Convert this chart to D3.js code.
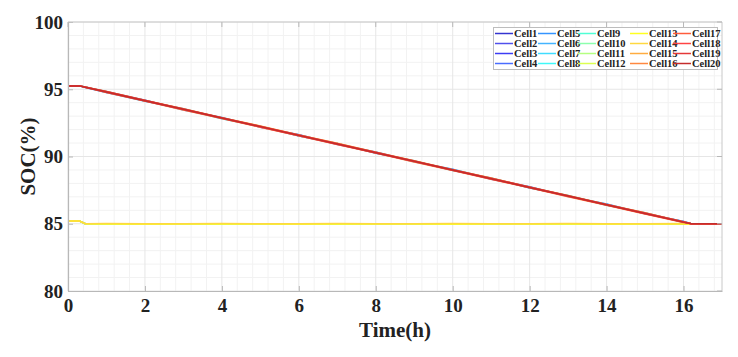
<!DOCTYPE html>
<html><head><meta charset="utf-8">
<script src="https://cdn.jsdelivr.net/npm/d3@7/dist/d3.min.js"></script>
<style>body{margin:0;background:#fff}svg{display:block}text{font-family:"Liberation Serif","Times New Roman",serif;font-weight:bold;fill:#222}</style>
</head><body><svg id="c" width="738" height="357"></svg>
<script>
// ---- data ----
const cellNames = ["Cell1","Cell2","Cell3","Cell4","Cell5","Cell6","Cell7","Cell8","Cell9","Cell10",
  "Cell11","Cell12","Cell13","Cell14","Cell15","Cell16","Cell17","Cell18","Cell19","Cell20"];
const cellColors = ["#3434d0","#5050ec","#3c3cf4","#4a6cff","#3494ff","#44b4ff","#40dcff","#40f8f8","#50ffd4","#8cffac",
  "#b4ff80","#dcff50","#ffff20","#ffd840","#ffac40","#ff8840","#ff5c3c","#ff4444","#e43838","#c42c2c"];
const timeH = [0,0.3,0.45,1,2,3,4,5,6,7,8,9,10,11,12,13,14,15,16,16.2,17];
const soc1  = [95.25,95.25,95.16,94.82,94.13,93.55,92.84,92.24,91.55,90.96,90.26,89.67,88.97,88.39,87.68,87.09,86.40,85.80,85.12,85.00,85.00];
const soc2  = [95.25,95.25,95.13,94.76,94.18,93.46,92.89,92.18,91.61,90.89,90.32,89.60,89.04,88.31,87.74,87.02,86.46,85.74,85.16,85.00,85.00];
const soc3  = [85.20,85.20,85.00,85.00,84.99,85.00,85.00,84.98,85.00,85.00,84.99,85.00,85.00,84.98,85.00,85.00,84.99,85.00,85.00,85.00,85.00];
const soc4  = [85.20,85.20,85.00,84.99,85.00,84.98,85.00,85.00,84.99,85.00,85.00,84.98,85.00,85.00,84.99,85.00,85.00,84.98,85.00,85.00,85.00];
const soc5  = [95.25,95.25,95.15,94.83,94.19,93.50,92.90,92.20,91.62,90.92,90.33,89.63,89.05,88.34,87.75,87.05,86.47,85.76,85.17,85.00,85.00];
const soc6  = [95.25,95.25,95.17,94.75,94.11,93.53,92.81,92.25,91.53,90.97,90.24,89.68,88.95,88.40,87.66,87.10,86.38,85.81,85.10,85.00,85.00];
const soc7  = [95.25,95.25,95.15,94.78,94.16,93.48,92.86,92.24,91.55,90.93,90.30,89.61,89.02,88.37,87.70,87.08,86.44,85.77,85.15,85.00,85.00];
const soc8  = [85.20,85.20,85.00,85.00,84.98,85.00,84.99,85.00,85.00,84.98,85.00,84.99,85.00,85.00,84.98,85.00,84.99,85.00,85.00,85.00,85.00];
const soc9  = [95.25,95.25,95.14,94.80,94.12,93.51,92.83,92.21,91.56,90.95,90.27,89.64,88.97,88.36,87.68,87.06,86.39,85.78,85.12,85.00,85.00];
const soc10 = [85.20,85.20,85.00,84.98,85.00,84.99,85.00,84.98,85.00,85.00,84.99,85.00,84.98,85.00,85.00,84.99,85.00,84.98,85.00,85.00,85.00];
const soc11 = [85.20,85.20,85.00,84.97,84.98,84.97,84.98,84.99,84.97,84.98,84.97,84.99,84.98,84.97,84.98,84.97,84.99,84.98,84.98,84.98,84.98];
const soc12 = [85.20,85.20,85.00,84.98,84.97,84.98,84.97,84.98,84.98,84.97,84.98,84.98,84.97,84.99,84.97,84.98,84.98,84.97,84.98,84.98,84.98];
const soc13 = [85.20,85.20,85.00,85.00,84.99,85.00,85.00,85.00,84.99,85.00,85.00,85.00,84.99,85.00,85.00,85.00,84.99,85.00,85.00,84.96,84.96];
const soc14 = [85.20,85.20,85.00,85.01,85.00,85.00,85.01,85.00,85.00,85.01,85.00,85.00,85.01,85.00,85.00,85.01,85.00,85.00,85.01,84.98,84.98];
const soc15 = [95.25,95.25,95.16,94.84,94.16,93.56,92.88,92.27,91.60,90.98,90.31,89.69,89.01,88.41,87.72,87.11,86.43,85.82,85.14,85.00,85.00];
const soc16 = [95.25,95.25,95.15,94.76,94.12,93.45,92.83,92.17,91.54,90.89,90.25,89.59,88.96,88.31,87.67,87.01,86.38,85.73,85.10,85.00,85.00];
const soc17 = [95.25,95.25,95.15,94.83,94.18,93.54,92.89,92.25,91.60,90.96,90.31,89.67,89.02,88.38,87.73,87.09,86.44,85.80,85.15,85.00,85.00];
const soc18 = [95.25,95.25,95.16,94.78,94.13,93.49,92.84,92.20,91.55,90.91,90.26,89.62,88.97,88.33,87.68,87.04,86.39,85.75,85.11,85.00,85.00];
const soc19 = [95.25,95.25,95.14,94.81,94.17,93.52,92.87,92.23,91.58,90.94,90.29,89.65,89.00,88.36,87.71,87.07,86.42,85.78,85.13,85.00,85.00];
const soc20 = [95.25,95.25,95.15,94.80,94.15,93.51,92.86,92.22,91.57,90.93,90.28,89.64,88.99,88.35,87.70,87.06,86.41,85.77,85.12,85.00,85.00];
const socSeries = [soc1,soc2,soc3,soc4,soc5,soc6,soc7,soc8,soc9,soc10,soc11,soc12,soc13,soc14,soc15,soc16,soc17,soc18,soc19,soc20];
const xTicks = [0,2,4,6,8,10,12,14,16];
const yTicks = [80,85,90,95,100];

// ---- chart ----
const svg = d3.select("#c");
const L=68, R=722, T=22, B=291;
const x = d3.scaleLinear().domain([0,17]).range([L,R]);
const y = d3.scaleLinear().domain([80,100]).range([B,T]);

const g = svg.append("g");
const xMinor = d3.range(0,17.001,0.4).filter(v=>Math.abs(v/2-Math.round(v/2))>1e-6);
const yMinor = d3.range(80,100.001,1).filter(v=>v%5!==0);
g.selectAll(".xm").data(xMinor).join("line").attr("x1",d=>x(d)).attr("x2",d=>x(d)).attr("y1",T).attr("y2",B).attr("stroke","#f2f2f2");
g.selectAll(".ym").data(yMinor).join("line").attr("y1",d=>y(d)).attr("y2",d=>y(d)).attr("x1",L).attr("x2",R).attr("stroke","#f2f2f2");
g.selectAll(".xg").data(xTicks).join("line").attr("x1",d=>x(d)).attr("x2",d=>x(d)).attr("y1",T).attr("y2",B).attr("stroke","#e6e6e6");
g.selectAll(".yg").data(yTicks).join("line").attr("y1",d=>y(d)).attr("y2",d=>y(d)).attr("x1",L).attr("x2",R).attr("stroke","#e6e6e6");

const line = d3.line().x((d,i)=>x(timeH[i])).y(d=>y(d));
svg.append("g").selectAll("path").data(socSeries).join("path")
  .attr("d",d=>line(d)).attr("fill","none").attr("stroke",(d,i)=>cellColors[i]).attr("stroke-width",1.5);

const ax = svg.append("g").attr("transform",`translate(0,${B})`).call(d3.axisBottom(x).tickValues(xTicks).tickSizeInner(-5).tickSizeOuter(0).tickPadding(8));
const ay = svg.append("g").attr("transform",`translate(${L},0)`).call(d3.axisLeft(y).tickValues(yTicks).tickSizeInner(-5).tickSizeOuter(0).tickPadding(5));
[ax,ay].forEach(a=>{a.select(".domain").attr("stroke","#b8b8b8").attr("stroke-width",1.2);
  a.selectAll(".tick line").attr("stroke","#b8b8b8");
  a.selectAll(".tick text").style("font-family","Liberation Serif").style("font-weight","bold").style("font-size","19px").attr("fill","#222");});
svg.append("line").attr("x1",L).attr("x2",R).attr("y1",T).attr("y2",T).attr("stroke","#c8c8c8");
svg.append("line").attr("x1",R).attr("x2",R).attr("y1",T).attr("y2",B).attr("stroke","#c8c8c8");
svg.append("g").selectAll("line").data(xTicks).join("line").attr("x1",d=>x(d)).attr("x2",d=>x(d)).attr("y1",T).attr("y2",T+5).attr("stroke","#b8b8b8");
svg.append("g").selectAll("line").data(yTicks).join("line").attr("y1",d=>y(d)).attr("y2",d=>y(d)).attr("x1",R).attr("x2",R-5).attr("stroke","#b8b8b8");

svg.append("text").attr("x",(L+R)/2).attr("y",337).attr("text-anchor","middle").style("font-size","21px").text("Time(h)");
svg.append("text").attr("transform",`translate(35,${(T+B)/2}) rotate(-90)`).attr("text-anchor","middle").style("font-size","21px").text("SOC(%)");

const lg = svg.append("g");
lg.append("rect").attr("x",493.5).attr("y",27.5).attr("width",224).attr("height",42).attr("fill","#fff").attr("stroke","#bdbdbd");
const colX = [495,538,578,630,673];
const rowY = [33.5,43.5,53.5,63.5];
cellNames.forEach((n,i)=>{
  const c = Math.floor(i/4), r = i%4;
  lg.append("line").attr("x1",colX[c]).attr("x2",colX[c]+18).attr("y1",rowY[r]).attr("y2",rowY[r]).attr("stroke",cellColors[i]).attr("stroke-width",1.5);
  lg.append("text").attr("x",colX[c]+19).attr("y",rowY[r]).attr("dy","0.35em").style("font-size","10.5px").text(n);
});
</script></body></html>
